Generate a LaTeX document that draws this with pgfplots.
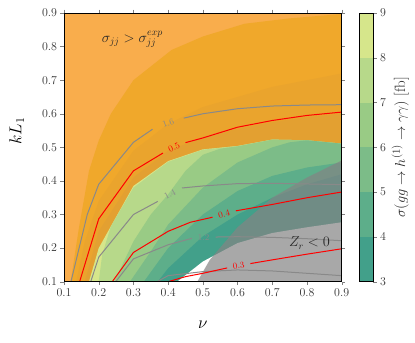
\documentclass[border=0pt]{standalone}
\usepackage{pgfplots}
\pgfplotsset{compat=1.18}

% filled bands (lightest orange -> teal), colour bar colours
\definecolor{oA}{HTML}{F9AD4C}
\definecolor{oB}{HTML}{F0A82B}
\definecolor{oC}{HTML}{EAA42D}
\definecolor{oD}{HTML}{E3A031}
\definecolor{c89}{HTML}{D6E68B}
\definecolor{c78}{HTML}{B7D98A}
\definecolor{c67}{HTML}{99CB85}
\definecolor{c56}{HTML}{7CBC88}
\definecolor{c45}{HTML}{5DAE8A}
\definecolor{c34}{HTML}{42A08A}
\definecolor{zr}{HTML}{848484}
\definecolor{cgray}{HTML}{898989}

\begin{document}
\begin{tikzpicture}
\path[use as bounding box] (-64bp,-61.3bp) rectangle (351bp,281.7bp);

\begin{axis}[
  at={(0,0)}, anchor=south west,
  scale only axis, width=277.7bp, height=268.7bp,
  xmin=0.1, xmax=0.9, ymin=0.1, ymax=0.9,
  xtick={0.1,0.2,0.3,0.4,0.5,0.6,0.7,0.8,0.9},
  ytick={0.1,0.2,0.3,0.4,0.5,0.6,0.7,0.8,0.9},
  xticklabel style={/pgf/number format/fixed, /pgf/number format/fixed zerofill, /pgf/number format/precision=1},
  yticklabel style={/pgf/number format/fixed, /pgf/number format/fixed zerofill, /pgf/number format/precision=1},
  tick label style={font=\fontsize{12}{14}\selectfont, text=black!80},
  tick align=outside,
  major tick length=3.5bp,
  axis line style={line width=0.8bp},
  xlabel={$\nu$},
  ylabel={$kL_1$},
  xlabel style={font=\fontsize{18}{21}\selectfont, at={(axis description cs:0.5,-0.16)}, anchor=center},
  ylabel style={font=\fontsize{18}{21}\selectfont, at={(axis description cs:-0.17,0.56)}, anchor=center},
  axis on top,
]
% sigma bands, painted from the highest level down
\addplot[fill=oA, draw=none] coordinates {(0.1,0.1) (0.9,0.1) (0.9,0.9) (0.1,0.9)} -- cycle;
\addplot[fill=oB, draw=none] coordinates {(0.119,0.1) (0.143,0.26) (0.172,0.43) (0.2,0.52) (0.235,0.60) (0.3,0.70) (0.41,0.79) (0.5,0.83) (0.62,0.868) (0.75,0.884) (0.9,0.897) (0.9,0.1)} -- cycle;
\addplot[fill=oC, draw=none] coordinates {(0.135,0.1) (0.16,0.22) (0.2,0.34) (0.3,0.49) (0.4,0.57) (0.5,0.62) (0.6,0.65) (0.7,0.68) (0.8,0.70) (0.9,0.72) (0.9,0.1)} -- cycle;
\addplot[fill=oD, draw=none] coordinates {(0.16,0.1) (0.2,0.25) (0.3,0.41) (0.4,0.49) (0.5,0.53) (0.6,0.555) (0.7,0.575) (0.8,0.59) (0.9,0.60) (0.9,0.1)} -- cycle;
\addplot[fill=c89, draw=none] coordinates {(0.172,0.1) (0.2,0.20) (0.3,0.385) (0.4,0.459) (0.5,0.494) (0.6,0.504) (0.7,0.523) (0.8,0.521) (0.9,0.511) (0.9,0.1)} -- cycle;
\addplot[fill=c78, draw=none] coordinates {(0.2,0.1) (0.21,0.18) (0.235,0.265) (0.3,0.38) (0.4,0.457) (0.5,0.493) (0.6,0.504) (0.7,0.523) (0.8,0.521) (0.9,0.511) (0.9,0.1)} -- cycle;
\addplot[fill=c67, draw=none] coordinates {(0.245,0.1) (0.3,0.22) (0.35,0.30) (0.4,0.36) (0.45,0.43) (0.5,0.478) (0.55,0.496) (0.6,0.503) (0.7,0.523) (0.8,0.521) (0.9,0.511) (0.9,0.1)} -- cycle;
\addplot[fill=c56, draw=none] coordinates {(0.29,0.1) (0.35,0.19) (0.4,0.27) (0.5,0.38) (0.6,0.455) (0.7,0.50) (0.75,0.515) (0.8,0.521) (0.9,0.511) (0.9,0.1)} -- cycle;
\addplot[fill=c45, draw=none] coordinates {(0.33,0.1) (0.4,0.2) (0.5,0.30) (0.6,0.37) (0.7,0.415) (0.8,0.44) (0.9,0.455) (0.9,0.1)} -- cycle;
\addplot[fill=c34, draw=none] coordinates {(0.37,0.1) (0.4,0.14) (0.5,0.235) (0.6,0.30) (0.7,0.35) (0.8,0.39) (0.9,0.42) (0.9,0.1)} -- cycle;
\addplot[fill=white, draw=none] coordinates {(0.426,0.1) (0.5,0.16) (0.6,0.215) (0.7,0.245) (0.8,0.262) (0.9,0.277) (0.9,0.1)} -- cycle;
% Z_r < 0 region
\addplot[fill=zr, fill opacity=0.7, draw=none] coordinates {(0.484,0.1) (0.52,0.165) (0.6,0.262) (0.7,0.35) (0.8,0.41) (0.9,0.461) (0.9,0.1)} -- cycle;

% gray contours
\addplot[cgray, line width=1bp] coordinates {(0.12,0.1) (0.167,0.30) (0.2,0.39) (0.3,0.515) (0.355,0.554)};
\addplot[cgray, line width=1bp] coordinates {(0.445,0.587) (0.5,0.60) (0.6,0.615) (0.7,0.623) (0.8,0.626) (0.9,0.627)};
\addplot[cgray, line width=1bp] coordinates {(0.177,0.1) (0.2,0.173) (0.3,0.30) (0.37,0.339)};
\addplot[cgray, line width=1bp] coordinates {(0.44,0.379) (0.5,0.385) (0.6,0.392) (0.7,0.393) (0.8,0.391) (0.9,0.389)};
\addplot[cgray, line width=1bp] coordinates {(0.249,0.1) (0.3,0.168) (0.4,0.21) (0.468,0.229)};
\addplot[cgray, line width=1bp] coordinates {(0.537,0.233) (0.6,0.234) (0.7,0.232) (0.8,0.228) (0.9,0.222)};
\addplot[cgray, line width=1bp] coordinates {(0.368,0.1) (0.4,0.118) (0.5,0.13) (0.6,0.135) (0.7,0.132) (0.8,0.125) (0.9,0.118)};
% red contours
\addplot[red, line width=1bp] coordinates {(0.145,0.1) (0.2,0.287) (0.3,0.43) (0.385,0.483)};
\addplot[red, line width=1bp] coordinates {(0.45,0.514) (0.5,0.528) (0.6,0.56) (0.7,0.58) (0.8,0.595) (0.9,0.605)};
\addplot[red, line width=1bp] coordinates {(0.239,0.1) (0.3,0.187) (0.4,0.25) (0.464,0.277) (0.528,0.292)};
\addplot[red, line width=1bp] coordinates {(0.595,0.311) (0.7,0.33) (0.8,0.35) (0.9,0.367)};
\addplot[red, line width=1bp] coordinates {(0.40,0.1) (0.45,0.115) (0.5,0.125) (0.57,0.141)};
\addplot[red, line width=1bp] coordinates {(0.637,0.154) (0.7,0.165) (0.8,0.182) (0.9,0.198)};

% contour labels
\node[cgray, rotate=19, font=\fontsize{9}{10}\selectfont] at (axis cs:0.400,0.572) {1.6};
\node[red, rotate=24, font=\fontsize{9}{10}\selectfont] at (axis cs:0.417,0.499) {0.5};
\node[cgray, rotate=28, font=\fontsize{9}{10}\selectfont] at (axis cs:0.405,0.360) {1.4};
\node[red, rotate=15, font=\fontsize{9}{10}\selectfont] at (axis cs:0.561,0.301) {0.4};
\node[cgray, rotate=2, font=\fontsize{9}{10}\selectfont] at (axis cs:0.502,0.232) {1.2};
\node[red, rotate=10, font=\fontsize{9}{10}\selectfont] at (axis cs:0.603,0.148) {0.3};

\node[font=\fontsize{14}{16}\selectfont, text=black!85] at (axis cs:0.297,0.822) {$\sigma_{jj} > \sigma_{jj}^{exp}$};
\node[font=\fontsize{14}{16}\selectfont, text=black!85] at (axis cs:0.807,0.215) {$Z_r < 0$};
\end{axis}

% colour bar
\begin{axis}[
  at={(295bp,0)}, anchor=south west,
  scale only axis, width=14bp, height=268.7bp,
  xmin=0, xmax=1, ymin=3, ymax=9,
  xtick=\empty,
  ytick={3,4,5,6,7,8,9},
  ytick pos=right, yticklabel pos=right,
  tick align=outside,
  major tick length=3.5bp,
  tick label style={font=\fontsize{12}{14}\selectfont, text=black!80},
  axis line style={line width=0.8bp},
  ylabel={$\sigma(gg\rightarrow h^{(1)}\rightarrow \gamma\gamma)$ [fb]},
  ylabel style={font=\fontsize{15}{17}\selectfont, text=black!85, at={(axis description cs:2.95,0.5)}, anchor=center},
  axis on top,
]
\addplot[fill=c34, draw=none] coordinates {(0,3) (1,3) (1,4) (0,4)} -- cycle;
\addplot[fill=c45, draw=none] coordinates {(0,4) (1,4) (1,5) (0,5)} -- cycle;
\addplot[fill=c56, draw=none] coordinates {(0,5) (1,5) (1,6) (0,6)} -- cycle;
\addplot[fill=c67, draw=none] coordinates {(0,6) (1,6) (1,7) (0,7)} -- cycle;
\addplot[fill=c78, draw=none] coordinates {(0,7) (1,7) (1,8) (0,8)} -- cycle;
\addplot[fill=c89, draw=none] coordinates {(0,8) (1,8) (1,9) (0,9)} -- cycle;
\end{axis}
\end{tikzpicture}
\end{document}
